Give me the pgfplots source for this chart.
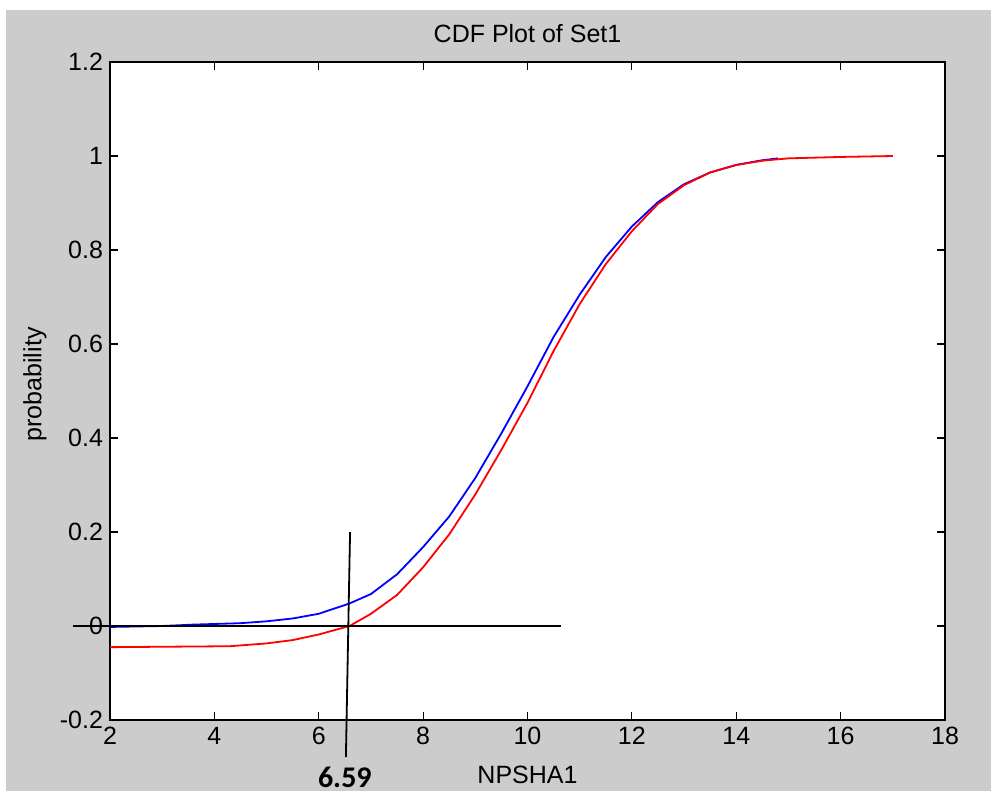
\documentclass[border=0pt]{standalone}
\usepackage{pgfplots}
\pgfplotsset{compat=1.18}
\usepackage{fontspec}
\setmainfont{Liberation Sans}
\newfontfamily\carlito{Carlito}
\definecolor{mgray}{RGB}{204,204,204}
\begin{document}
\begin{tikzpicture}
\begin{scope}[x=0.5pt,y=-0.5pt]
\fill[white] (0,0) rectangle (991,793);
\fill[mgray] (6,10) rectangle (991,791);
\end{scope}
\begin{axis}[
  at={(55pt,-360pt)}, anchor=south west,
  scale only axis, width=417.5pt, height=329pt,
  xmin=2, xmax=18, ymin=-0.2, ymax=1.2,
  xtick={2,4,6,8,10,12,14,16,18},
  xticklabels={2,4,6,8,10,12,14,16,18},
  ytick={-0.2,0,0.2,0.4,0.6,0.8,1,1.2},
  yticklabels={-0.2,0,0.2,0.4,0.6,0.8,1,1.2},
  tick align=inside, major tick length=4pt,
  tick style={black, line width=0.6pt},
  axis line style={black, line width=0.8pt},
  axis background/.style={fill=white},
  ticklabel style={font=\fontsize{12.5}{14}\selectfont},
  title={CDF Plot of Set1},
  title style={at={(axis description cs:0.5,1)}, anchor=center, yshift=8pt, font=\fontsize{12.5}{14}\selectfont},
  xlabel={NPSHA1},
  xlabel style={at={(axis description cs:0.5,0)}, anchor=center, yshift=-27.5pt, font=\fontsize{12.5}{14}\selectfont},
  ylabel={probability},
  ylabel style={at={(axis description cs:0,0.51)}, anchor=center, yshift=37.5pt, font=\fontsize{12.5}{14}\selectfont},
  clip=false,
]
\addplot[blue, line width=0.9pt] coordinates {
(2,-0.002) (3,0.000) (3.6,0.003) (4.5,0.006) (5,0.01) (5.5,0.016) (6,0.026)
(6.59,0.048) (7,0.068) (7.5,0.11) (8,0.168) (8.5,0.233) (9,0.315) (9.5,0.41)
(10,0.51) (10.5,0.615) (11,0.705) (11.5,0.785) (12,0.85) (12.5,0.902)
(13,0.94) (13.5,0.965) (14,0.981) (14.5,0.991) (14.8,0.995)
};
\addplot[red, line width=0.9pt] coordinates {
(2,-0.045) (4.3,-0.043) (5,-0.037) (5.5,-0.03) (6,-0.018) (6.59,0.0)
(7,0.026) (7.5,0.066) (8,0.125) (8.5,0.195) (9,0.28) (9.5,0.375)
(10,0.475) (10.5,0.585) (11,0.685) (11.5,0.77) (12,0.84) (12.5,0.898)
(13,0.938) (13.5,0.965) (14,0.981) (14.5,0.99) (15,0.995) (16,0.998) (17,1.0)
};
\addplot[black, line width=0.9pt] coordinates {(1.29,0) (10.64,0)};
\addplot[black, line width=0.9pt] coordinates {(6.60,0.2) (6.52,-0.279)};
\node[font=\carlito\bfseries\fontsize{15}{17}\selectfont] at (axis cs:6.50,-0.323) {6.59};
\end{axis}
\end{tikzpicture}
\end{document}
